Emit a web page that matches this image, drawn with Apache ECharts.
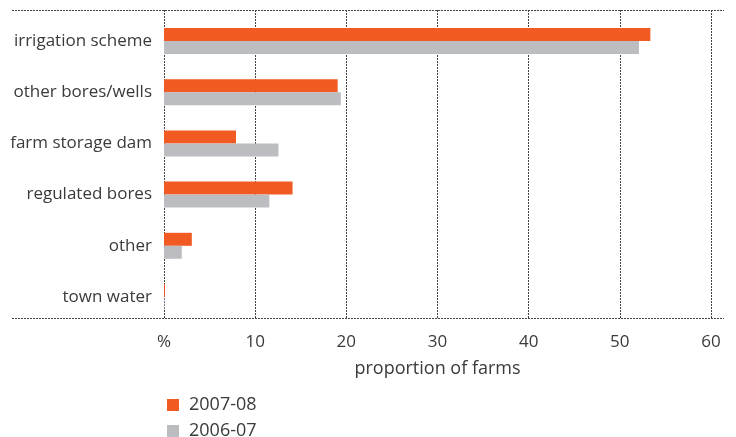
<!DOCTYPE html>
<html>
<head>
<meta charset="utf-8">
<script src="https://cdn.jsdelivr.net/npm/echarts@6/dist/echarts.min.js"></script>
<style>html,body{margin:0;padding:0;background:#fff}#c{width:736px;height:437px}</style>
</head>
<body>
<div id="c"></div>
<script>
var categories = ['irrigation scheme', 'other bores/wells', 'farm storage dam', 'regulated bores', 'other', 'town water'];
var series2007 = [53.35, 19.05, 7.9, 14.1, 3.05, 0.1];
var series2006 = [52.1, 19.4, 12.55, 11.55, 1.95, 0.05];
var seriesNames = ['2007-08', '2006-07'];
var xTicks = [0, 10, 20, 30, 40, 50, 60];
var xTickLabels = ['%', '10', '20', '30', '40', '50', '60'];

var FONT = 'Open Sans';
var TXT = '#3a3a3a';
var FS = 17;
var LINE = '#444';
var dotted = { color: LINE, width: 1, type: [2, 1] };

function legendItem(i, top) {
  return {
    left: 167, top: top, padding: 0, itemWidth: 12, itemHeight: 12,
    icon: 'rect', data: [seriesNames[i]], selectedMode: false,
    textStyle: { fontSize: 18, color: TXT, fontFamily: FONT, padding: [0, 0, 0, 5] }
  };
}

var chart = echarts.init(document.getElementById('c'));
chart.setOption({
  animation: false,
  textStyle: { fontFamily: FONT, color: TXT },
  grid: [
    { left: 164, top: 10, width: 547, height: 308 },
    { left: 164, top: 15.4, width: 547, height: 307.2 }
  ],
  xAxis: [
    {
      gridIndex: 0, type: 'value', min: xTicks[0], max: xTicks[xTicks.length - 1], interval: 10,
      axisLine: { show: false }, axisTick: { show: false },
      splitLine: { show: true, lineStyle: dotted },
      axisLabel: {
        margin: 16, fontSize: FS, color: TXT, fontFamily: FONT,
        formatter: function (v) { var i = xTicks.indexOf(v); return i >= 0 ? xTickLabels[i] : ''; }
      },
      name: 'proportion of farms', nameLocation: 'middle', nameGap: 42,
      nameTextStyle: { fontSize: 18, color: TXT, fontFamily: FONT }
    },
    {
      gridIndex: 1, type: 'value', min: xTicks[0], max: xTicks[xTicks.length - 1],
      show: false, splitLine: { show: false }
    }
  ],
  yAxis: [
    { gridIndex: 0, type: 'category', data: categories, show: false },
    {
      gridIndex: 1, type: 'category', data: categories, inverse: true,
      axisLine: { show: false }, axisTick: { show: false },
      axisLabel: { margin: 12, fontSize: FS, color: TXT, fontFamily: FONT }
    }
  ],
  legend: [legendItem(0, 396), legendItem(1, 422)],
  graphic: [
    { type: 'line', shape: { x1: 12, y1: 10.5, x2: 724, y2: 10.5 }, style: { stroke: LINE, lineWidth: 1, lineDash: [2, 1] } },
    { type: 'line', shape: { x1: 12, y1: 318.5, x2: 724, y2: 318.5 }, style: { stroke: LINE, lineWidth: 1, lineDash: [2, 1] } }
  ],
  series: [
    { name: seriesNames[0], type: 'bar', xAxisIndex: 1, yAxisIndex: 1, data: series2007,
      barWidth: 13, barGap: '0%', itemStyle: { color: '#F15A22' } },
    { name: seriesNames[1], type: 'bar', xAxisIndex: 1, yAxisIndex: 1, data: series2006,
      barWidth: 13, barGap: '0%', itemStyle: { color: '#BCBDC0' } }
  ]
});
</script>
</body>
</html>
